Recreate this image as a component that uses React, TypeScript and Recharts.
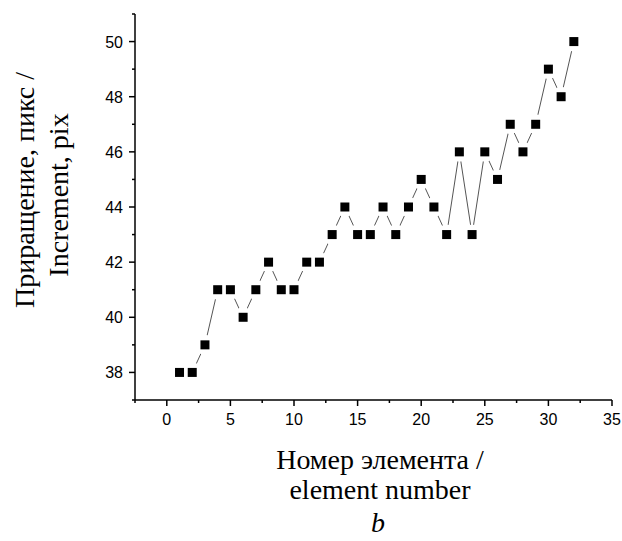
import React from "react";
import { ComposedChart, Line, Scatter, XAxis, YAxis } from "recharts";

const elementNumbers = [
  1, 2, 3, 4, 5, 6, 7, 8, 9, 10, 11, 12, 13, 14, 15, 16,
  17, 18, 19, 20, 21, 22, 23, 24, 25, 26, 27, 28, 29, 30, 31, 32,
];
const increments = [
  38, 38, 39, 41, 41, 40, 41, 42, 41, 41, 42, 42, 43, 44, 43, 43,
  44, 43, 44, 45, 44, 43, 46, 43, 46, 45, 47, 46, 47, 49, 48, 50,
];
const xTicks = [-2.5, 0, 2.5, 5, 7.5, 10, 12.5, 15, 17.5, 20, 22.5, 25, 27.5, 30, 32.5, 35];
const xMajor = [0, 5, 10, 15, 20, 25, 30, 35];
const yTicks = [37, 38, 39, 40, 41, 42, 43, 44, 45, 46, 47, 48, 49, 50, 51];
const yMajor = [38, 40, 42, 44, 46, 48, 50];

const data = elementNumbers.map((x, i) => ({ x, y: increments[i] }));

const tickFont = "'Liberation Sans', Arial, sans-serif";
const titleFont = "'Liberation Serif', 'Times New Roman', serif";

const XTick = (props: any) => {
  const { x, y, payload } = props;
  const major = xMajor.includes(payload.value);
  return (
    <g>
      <line x1={x} y1={y} x2={x} y2={y + (major ? 6 : 3)} stroke="#000" strokeWidth={1.5} />
      {major && (
        <text x={x} y={y + 25} textAnchor="middle" fontSize={16} fontFamily={tickFont} fill="#000">
          {payload.value}
        </text>
      )}
    </g>
  );
};

const YTick = (props: any) => {
  const { x, y, payload } = props;
  const major = yMajor.includes(payload.value);
  return (
    <g>
      <line x1={x} y1={y} x2={x - (major ? 6 : 3)} y2={y} stroke="#000" strokeWidth={1.5} />
      {major && (
        <text x={x - 12} y={y + 6} textAnchor="end" fontSize={16} fontFamily={tickFont} fill="#000">
          {payload.value}
        </text>
      )}
    </g>
  );
};

// white disc under each marker so the connecting line stops short of it
const GapDot = (props: any) => {
  const { cx, cy } = props;
  if (cx == null || cy == null) return null;
  return <circle cx={cx} cy={cy} r={10} fill="#fff" />;
};

const SquareMark = (props: any) => {
  const { cx, cy } = props;
  return <rect x={cx - 4.5} y={cy - 4.5} width={9} height={9} fill="#000" />;
};

export default function App() {
  return (
    <div style={{ position: "absolute", left: 0, top: 0, width: 622, height: 541, background: "#fff" }}>
      <ComposedChart
        width={622}
        height={541}
        data={data}
        margin={{ top: 14, right: 10, bottom: 111, left: 75 }}
      >
        <XAxis
          type="number"
          dataKey="x"
          domain={[-2.5, 35]}
          ticks={xTicks}
          interval={0}
          tickSize={0}
          tickMargin={0}
          tickLine={false}
          axisLine={{ stroke: "#000", strokeWidth: 1.5 }}
          tick={<XTick />}
          height={30}
          allowDataOverflow
        />
        <YAxis
          type="number"
          dataKey="y"
          domain={[37, 51]}
          ticks={yTicks}
          interval={0}
          tickSize={0}
          tickMargin={0}
          tickLine={false}
          axisLine={{ stroke: "#000", strokeWidth: 1.5 }}
          tick={<YTick />}
          width={60}
          allowDataOverflow
        />
        <Line
          dataKey="y"
          type="linear"
          stroke="#555"
          strokeWidth={1}
          dot={<GapDot />}
          activeDot={false}
          isAnimationActive={false}
        />
        <Scatter dataKey="y" shape={<SquareMark />} isAnimationActive={false} />
      </ComposedChart>
      <div
        style={{
          position: "absolute",
          left: 0,
          top: 0,
          width: 622,
          height: 541,
          pointerEvents: "none",
        }}
      >
        <svg width={622} height={541}>
          <g fontFamily={titleFont} fill="#000" fontSize={28}>
            <text x={34} y={190} textAnchor="middle" transform="rotate(-90 34 190)">
              Приращение, пикс /
            </text>
            <text x={68} y={195} textAnchor="middle" transform="rotate(-90 68 195)">
              Increment, pix
            </text>
            <text x={380} y={469} textAnchor="middle">
              Номер элемента /
            </text>
            <text x={380} y={499} textAnchor="middle">
              element number
            </text>
            <text x={378} y={532} textAnchor="middle" fontStyle="italic">
              b
            </text>
          </g>
        </svg>
      </div>
    </div>
  );
}
